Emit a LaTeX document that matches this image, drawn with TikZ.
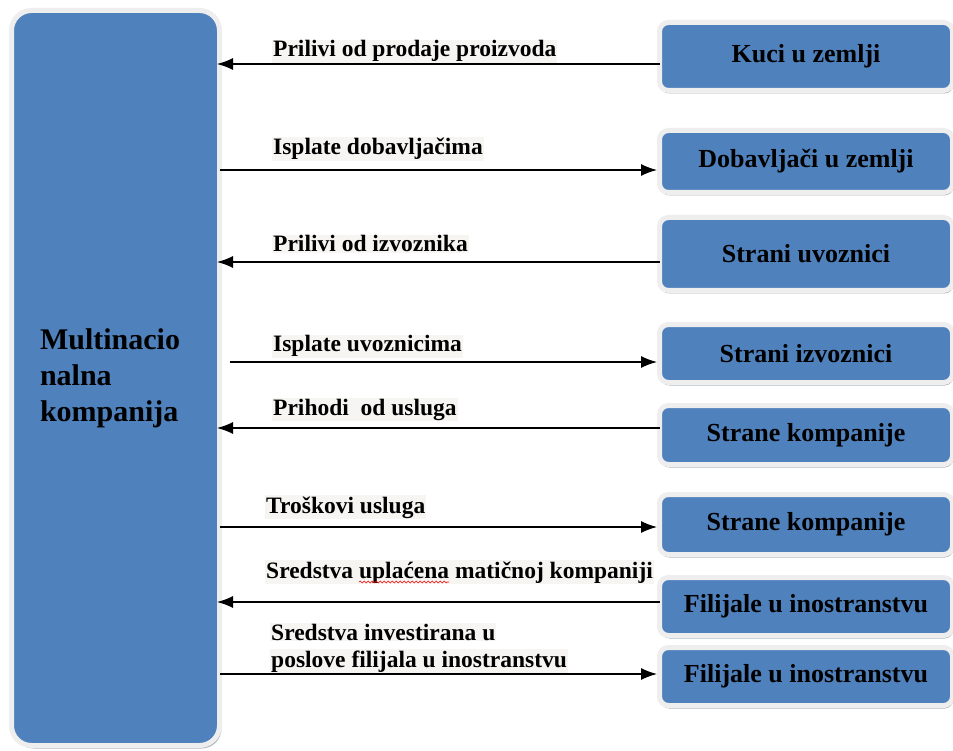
\documentclass[tikz,border=0pt]{standalone}
\usepackage{fontspec}
\setmainfont{Liberation Serif}[BoldFont={Liberation Serif Bold}]
\newfontfamily\tnrbold{Liberation Serif Bold}
\usetikzlibrary{arrows.meta,shadows,decorations.pathmorphing}
\definecolor{boxblue}{HTML}{4F81BD}
\definecolor{boxframe}{HTML}{EEEEEE}
\definecolor{boxshade}{HTML}{9EA7B2}
\definecolor{labelbg}{HTML}{F7F5F1}
\begin{document}
\begin{tikzpicture}[x=1pt,y=-1pt,
  entity/.style={rounded corners=9pt, fill=boxblue, draw=boxframe, line width=5pt,
    drop shadow={shadow xshift=1pt, shadow yshift=-3pt, fill=boxshade, opacity=.85},
    minimum width=293pt, inner sep=0pt, outer sep=0pt,
    font=\tnrbold\fontsize{26}{30}\selectfont},
  bigbox/.style={rounded corners=20pt, fill=boxblue, draw=boxframe, line width=5pt,
    drop shadow={shadow xshift=2pt, shadow yshift=-3pt, fill=boxshade, opacity=.85},
    inner sep=0pt, outer sep=0pt, align=left,
    font=\tnrbold\fontsize{30}{36}\selectfont},
  lbl/.style={anchor=base west, inner sep=1pt, fill=labelbg,
    font=\tnrbold\fontsize{23.5}{27}\selectfont},
  arr/.style={line width=1.3pt, -{Latex[length=16pt,width=12pt]}},
  larr/.style={arr, shorten >=-2.5pt},
  rarr/.style={arr, shorten >=2.5pt},
  squiggle/.style={red, line width=0.6pt, decorate,
    decoration={snake, amplitude=0.9pt, segment length=4pt}}
]
\useasboundingbox (0,0) rectangle (953,751);
\fill[white] (0,0) rectangle (953,751);

% main company box
\node[bigbox, minimum width=208pt, minimum height=735pt, text width=151pt]
  (mnc) at (115.5,378) {Multinacio\\nalna\\kompanija};

% partner boxes
\node[entity, minimum height=68pt] (k1) at (806,56.5) {Kuci u zemlji};
\node[entity, minimum height=62pt] (k2) at (806,161.5) {Dobavljači u zemlji};
\node[entity, minimum height=73pt] (k3) at (806,254) {Strani uvoznici};
\node[entity, minimum height=58pt] (k4) at (806,353.5) {Strani izvoznici};
\node[entity, minimum height=59pt] (k5) at (806,435) {Strane kompanije};
\node[entity, minimum height=60pt] (k6) at (806,524.5) {Strane kompanije};
\node[entity, minimum height=58pt] (k7) at (806,606.5) {Filijale u inostranstvu};
\node[entity, minimum height=58pt] (k8) at (806,676.5) {Filijale u inostranstvu};

% flow labels
\node[lbl] (l1) at (272,57) {Prilivi od prodaje proizvoda};
\node[lbl] (l2) at (272,155) {Isplate dobavljačima};
\node[lbl] (l3) at (272,252) {Prilivi od izvoznika};
\node[lbl] (l4) at (272,352) {Isplate uvoznicima};
\node[lbl] (l5) at (272,415) {Prihodi\ \ od usluga};
\node[lbl] (l6) at (265,513) {Troškovi usluga};
\node[lbl] (l7) at (265,578) {Sredstva uplaćena matičnoj kompaniji};
\node[lbl] (l8a) at (270,640) {Sredstva investirana u};
\node[lbl] (l8b) at (270,667) {poslove filijala u inostranstvu};

\draw[squiggle] ([xshift=94pt,yshift=-4pt]l7.base west) -- ([xshift=184pt,yshift=-4pt]l7.base west);

% flows
\draw[larr] (k1.west |- 0,64) -- (mnc.east |- 0,64);
\draw[rarr] (mnc.east |- 0,170) -- (k2.west |- 0,170);
\draw[larr] (k3.west |- 0,262) -- (mnc.east |- 0,262);
\draw[rarr, shorten <=10pt] (mnc.east |- 0,362) -- (k4.west |- 0,362);
\draw[larr] (k5.west |- 0,428) -- (mnc.east |- 0,428);
\draw[rarr] (mnc.east |- 0,527) -- (k6.west |- 0,527);
\draw[larr] (k7.west |- 0,602) -- (mnc.east |- 0,602);
\draw[rarr] (mnc.east |- 0,674) -- (k8.west |- 0,674);
\end{tikzpicture}
\end{document}
